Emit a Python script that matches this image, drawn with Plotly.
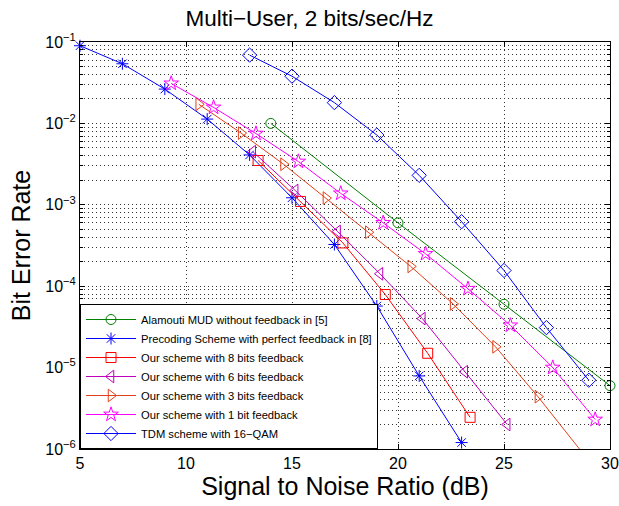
import plotly.graph_objects as go

# ---- data ----
alamouti_x = [14, 20, 25, 30]
alamouti_y = [0.01, 6.0e-4, 6.0e-5, 6.0e-6]

precoding_x = [5, 7, 9, 11, 13, 15, 17, 19, 21, 23]
precoding_y = [0.09, 0.054, 0.0264, 0.0113, 0.0041, 0.00122, 3.25e-4, 5.7e-5, 7.9e-6, 1.2e-6]

bits8_x = [13.4, 15.4, 17.4, 19.4, 21.4, 23.4]
bits8_y = [0.0035, 0.0011, 3.4e-4, 7.9e-5, 1.5e-5, 2.45e-6]

bits6_x = [13.15, 15.15, 17.15, 19.15, 21.15, 23.15, 25.15]
bits6_y = [0.0045, 0.0015, 4.7e-4, 1.42e-4, 4.0e-5, 8.9e-6, 2.0e-6]

bits3_x = [10.6, 12.6, 14.6, 16.6, 18.6, 20.6, 22.6, 24.6, 26.6, 28.6]
bits3_y = [0.0172, 0.0076, 0.00315, 0.00121, 4.6e-4, 1.75e-4, 6.05e-5, 1.8e-5, 4.4e-6, 9.7e-7]

bits1_x = [9.3, 11.3, 13.3, 15.3, 17.3, 19.3, 21.3, 23.3, 25.3, 27.3, 29.3]
bits1_y = [0.031, 0.0157, 0.0075, 0.0034, 0.00138, 6.0e-4, 2.5e-4, 9.3e-5, 3.3e-5, 1.0e-5, 2.3e-6]

tdm_x = [13, 15, 17, 19, 21, 23, 25, 27, 29]
tdm_y = [0.069, 0.038, 0.018, 0.0072, 0.0023, 6.2e-4, 1.56e-4, 3.1e-5, 7.0e-6]

x_ticks = [5, 10, 15, 20, 25, 30]
y_tickvals = [1e-6, 1e-5, 1e-4, 1e-3, 1e-2, 1e-1]
y_ticktext = ["10<sup>\u22126</sup>", "10<sup>\u22125</sup>", "10<sup>\u22124</sup>",
              "10<sup>\u22123</sup>", "10<sup>\u22122</sup>", "10<sup>\u22121</sup>"]

series = [
    ("Alamouti MUD without feedback in [5]", alamouti_x, alamouti_y, "#008000", "circle-open", 10),
    ("Precoding Scheme with perfect feedback in [8]", precoding_x, precoding_y, "#0000FF", "asterisk-open", 10),
    ("Our scheme with 8 bits feedback", bits8_x, bits8_y, "#FF0000", "square-open", 10),
    ("Our scheme with 6 bits feedback", bits6_x, bits6_y, "#BF00BF", "triangle-left-open", 11),
    ("Our scheme with 3 bits feedback", bits3_x, bits3_y, "#E2401A", "triangle-right-open", 11),
    ("Our scheme with 1 bit feedback", bits1_x, bits1_y, "#FF00FF", "star-open", 11),
    ("TDM scheme with 16\u2212QAM", tdm_x, tdm_y, "#0000FF", "diamond-open", 11),
]

FONT = "Liberation Sans, Arial, Helvetica, sans-serif"
GRID = dict(showgrid=True, gridcolor="#333333", griddash="1px,3px", gridwidth=1)

fig = go.Figure()
for name, xs, ys, col, sym, sz in series:
    fig.add_trace(go.Scatter(
        x=xs, y=ys, name=name, mode="lines+markers",
        line=dict(color=col, width=1),
        marker=dict(symbol=sym, size=sz, color=col, line=dict(color=col, width=1)),
        cliponaxis=False,
    ))

fig.update_layout(
    width=619, height=506,
    margin=dict(l=80, r=9, t=42, b=57, autoexpand=False),
    paper_bgcolor="white", plot_bgcolor="white",
    font=dict(family=FONT, color="black"),
    title=dict(text="Multi\u2212User, 2 bits/sec/Hz", x=0.5, xanchor="center",
               y=0.964, yanchor="middle", font=dict(size=22.5, family=FONT)),
    showlegend=True,
    legend=dict(x=0.0, y=0.0, xanchor="left", yanchor="bottom",
                bgcolor="white", bordercolor="black", borderwidth=1,
                font=dict(size=11.2, family=FONT), itemwidth=50,
                tracegroupgap=0),
)

fig.update_xaxes(
    range=[5, 30], tickvals=x_ticks, ticktext=[str(v) for v in x_ticks],
    ticks="inside", ticklen=5, tickcolor="black", mirror="allticks",
    showline=True, linecolor="black", linewidth=1,
    zeroline=False, automargin=False,
    tickfont=dict(size=16, family=FONT),
    title=dict(text="Signal to Noise Ratio (dB)", font=dict(size=25, family=FONT), standoff=6),
    **GRID,
)

fig.update_yaxes(
    type="log", range=[-6, -1], tickvals=y_tickvals, ticktext=y_ticktext,
    ticks="inside", ticklen=5, tickcolor="black", mirror="allticks",
    showline=True, linecolor="black", linewidth=1,
    zeroline=False, automargin=False,
    tickfont=dict(size=16, family=FONT),
    minor=dict(dtick="D1", ticks="inside", ticklen=3, tickcolor="black",
               showgrid=True, gridcolor="#333333", griddash="1px,3px", gridwidth=1),
    title=dict(text="Bit Error Rate", font=dict(size=25, family=FONT), standoff=7),
    **GRID,
)

# remove the browser's default 8px page margin so the figure fills the window
fig.write_html("out.html",
               config={"displayModeBar": False},
               post_script="document.body.style.margin='0';document.body.style.overflow='hidden';")
